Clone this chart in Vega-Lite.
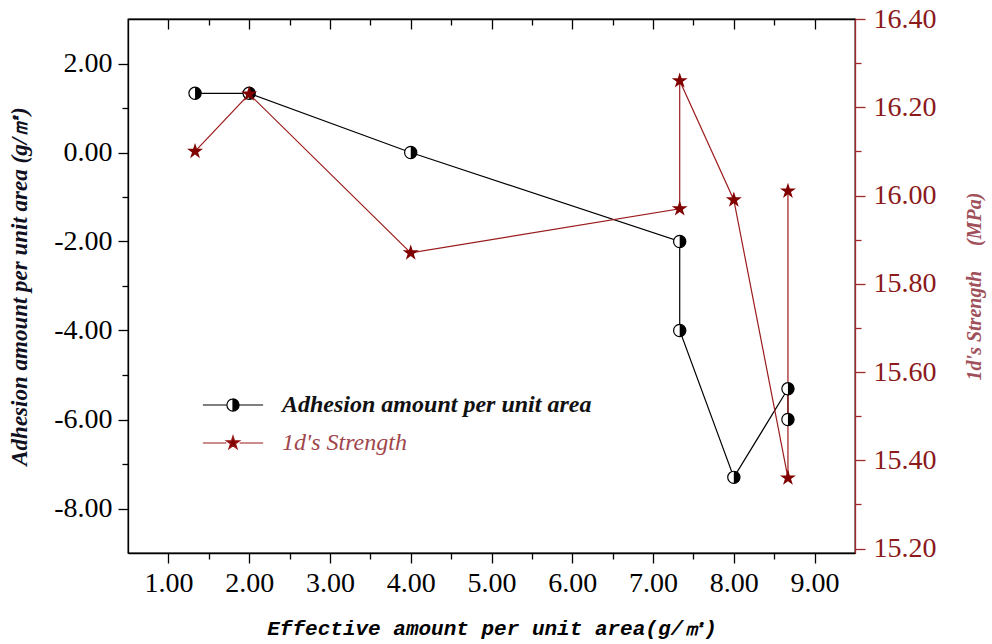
{
  "$schema": "https://vega.github.io/schema/vega-lite/v6.json",
  "width": 727,
  "height": 534,
  "autosize": "none",
  "padding": {"left": 128, "top": 19, "right": 137, "bottom": 91},
  "background": "white",
  "datasets": {
    "adh": [
      {"x": 1.33, "y": 1.33, "o": 1},
      {"x": 2.0, "y": 1.33, "o": 2},
      {"x": 4.0, "y": 0.0, "o": 3},
      {"x": 7.33, "y": -2.0, "o": 4},
      {"x": 7.33, "y": -4.0, "o": 5},
      {"x": 8.0, "y": -7.3, "o": 6},
      {"x": 8.67, "y": -5.31, "o": 7},
      {"x": 8.67, "y": -6.0, "o": 8}
    ],
    "str": [
      {"x": 1.33, "y": 16.1, "o": 1},
      {"x": 2.0, "y": 16.23, "o": 2},
      {"x": 4.0, "y": 15.87, "o": 3},
      {"x": 7.33, "y": 15.97, "o": 4},
      {"x": 7.33, "y": 16.26, "o": 5},
      {"x": 8.0, "y": 15.99, "o": 6},
      {"x": 8.67, "y": 15.36, "o": 7},
      {"x": 8.67, "y": 16.01, "o": 8}
    ],
    "leg": [
      {"s": "Adhesion amount per unit area"},
      {"s": "1d's Strength"}
    ]
  },
  "config": {
    "view": {"stroke": "black", "strokeWidth": 1.3},
    "axis": {
      "grid": false,
      "labelFont": "Liberation Serif",
      "labelFontSize": 28,
      "domainWidth": 1.3,
      "tickWidth": 1.3,
      "labelFlush": false,
      "labelOverlap": false,
      "labelBound": false
    }
  },
  "resolve": {"scale": {"y": "independent"}, "axis": {"x": "independent", "y": "independent"}},
  "layer": [
    {
      "data": {"name": "adh"},
      "mark": {"type": "line", "color": "black", "strokeWidth": 1.2},
      "encoding": {
        "x": {
          "field": "x", "type": "quantitative",
          "scale": {"domain": [0.5, 9.5], "nice": false, "zero": false},
          "axis": {
            "orient": "bottom",
            "values": [1, 1.5, 2, 2.5, 3, 3.5, 4, 4.5, 5, 5.5, 6, 6.5, 7, 7.5, 8, 8.5, 9],
            "labelExpr": "datum.value % 1 === 0 ? format(datum.value, '.2f') : ''",
            "tickSize": {"condition": {"test": "datum.value % 1 === 0", "value": 10}, "value": 6},
            "domainColor": "black", "tickColor": "black", "labelColor": "black",
            "labelPadding": 6,
            "title": "Effective amount per unit area(g/㎡)",
            "titleFont": "Liberation Mono", "titleFontSize": 21,
            "titleFontWeight": "bold", "titleFontStyle": "italic", "titleColor": "black",
            "titlePadding": 20
          }
        },
        "y": {
          "field": "y", "type": "quantitative",
          "scale": {"domain": [-9, 3], "nice": false, "zero": false},
          "axis": {
            "orient": "left",
            "values": [-8, -7, -6, -5, -4, -3, -2, -1, 0, 1, 2],
            "labelExpr": "datum.value % 2 === 0 ? replace(format(datum.value, '.2f'), '−', '-') : ''",
            "tickSize": {"condition": {"test": "datum.value % 2 === 0", "value": 10}, "value": 6},
            "domainColor": "black", "tickColor": "black", "labelColor": "black",
            "labelPadding": 6,
            "title": "Adhesion amount per unit area (g/㎡)",
            "titleFont": "Liberation Serif", "titleFontSize": 23,
            "titleFontStyle": "italic", "titleFontWeight": "bold", "titleColor": "#10101e",
            "titlePadding": 22
          }
        },
        "order": {"field": "o", "type": "quantitative"}
      }
    },
    {
      "data": {"name": "str"},
      "mark": {"type": "line", "color": "#9B1B1B", "strokeWidth": 1.2},
      "encoding": {
        "x": {
          "field": "x", "type": "quantitative",
          "scale": {"domain": [0.5, 9.5], "nice": false, "zero": false},
          "axis": {
            "orient": "top",
            "values": [1, 1.5, 2, 2.5, 3, 3.5, 4, 4.5, 5, 5.5, 6, 6.5, 7, 7.5, 8, 8.5, 9],
            "labels": false,
            "tickSize": {"condition": {"test": "datum.value % 1 === 0", "value": -10}, "value": -6},
            "domainColor": "black", "tickColor": "black",
            "title": null
          }
        },
        "y": {
          "field": "y", "type": "quantitative",
          "scale": {"domain": [15.19, 16.4], "nice": false, "zero": false},
          "axis": {
            "orient": "right",
            "values": [15.2, 15.3, 15.4, 15.5, 15.6, 15.7, 15.8, 15.9, 16.0, 16.1, 16.2, 16.3, 16.4],
            "labelExpr": "round(datum.value * 10) % 2 === 0 ? format(datum.value, '.2f') : ''",
            "tickSize": {"condition": {"test": "round(datum.value * 10) % 2 === 0", "value": 10}, "value": 6},
            "domainColor": "#A0282D", "tickColor": "#A0282D", "labelColor": "#8B1A1A",
            "labelPadding": 8,
            "title": "1d's Strength\u00a0\u00a0\u00a0\u00a0\u00a0(MPa)",
            "titleFont": "Liberation Serif", "titleFontSize": 20,
            "titleFontStyle": "italic", "titleFontWeight": "bold", "titleColor": "#A0505A",
            "titleAngle": 270,
            "titlePadding": 48
          }
        },
        "order": {"field": "o", "type": "quantitative"}
      }
    },
    {
      "data": {"name": "adh"},
      "mark": {"type": "point", "shape": "circle", "filled": true, "fill": "white", "stroke": "black", "strokeWidth": 1.2, "size": 150, "opacity": 1},
      "encoding": {
        "x": {"field": "x", "type": "quantitative", "scale": {"domain": [0.5, 9.5], "nice": false, "zero": false}, "axis": null},
        "y": {"field": "y", "type": "quantitative", "scale": {"domain": [-9, 3], "nice": false, "zero": false}, "axis": null}
      }
    },
    {
      "data": {"name": "adh"},
      "mark": {"type": "point", "shape": "M0,-1A1,1,0,0,1,0,1Z", "filled": true, "fill": "black", "strokeWidth": 0, "size": 150, "opacity": 1},
      "encoding": {
        "x": {"field": "x", "type": "quantitative", "scale": {"domain": [0.5, 9.5], "nice": false, "zero": false}, "axis": null},
        "y": {"field": "y", "type": "quantitative", "scale": {"domain": [-9, 3], "nice": false, "zero": false}, "axis": null}
      }
    },
    {
      "data": {"name": "str"},
      "mark": {"type": "point", "shape": "M0,-1L0.2245,-0.309L0.951,-0.309L0.363,0.118L0.588,0.809L0,0.382L-0.588,0.809L-0.363,0.118L-0.951,-0.309L-0.2245,-0.309Z", "filled": true, "color": "#800000", "size": 280, "opacity": 1},
      "encoding": {
        "x": {"field": "x", "type": "quantitative", "scale": {"domain": [0.5, 9.5], "nice": false, "zero": false}, "axis": null},
        "y": {"field": "y", "type": "quantitative", "scale": {"domain": [15.19, 16.4], "nice": false, "zero": false}, "axis": null}
      }
    },
    {
      "data": {"name": "leg"},
      "mark": {"type": "point", "filled": true, "opacity": 0},
      "encoding": {
        "color": {
          "field": "s", "type": "nominal",
          "scale": {"domain": ["Adhesion amount per unit area", "1d's Strength"], "range": ["black", "#800000"]},
          "legend": {
            "orient": "none", "legendX": 93, "legendY": 374,
            "title": null,
            "symbolSize": 196,
            "labelFont": "Liberation Serif", "labelFontSize": 24, "labelFontStyle": "italic",
            "labelOffset": 37, "rowPadding": 14, "labelLimit": 500,
            "symbolStrokeWidth": 1.2, "symbolOpacity": 1,
            "encode": {
              "symbols": {"update": {
                "stroke": {"signal": "datum.value === 'Adhesion amount per unit area' ? 'black' : '#9B1B1B'"},
                "strokeWidth": {"value": 1.2},
                "opacity": {"value": 1}
              }},
              "labels": {"update": {
                "fill": {"signal": "datum.value === 'Adhesion amount per unit area' ? '#111111' : '#A0464B'"},
                "fontWeight": {"signal": "datum.value === 'Adhesion amount per unit area' ? 'bold' : 'normal'"}
              }}
            }
          }
        },
        "shape": {
          "field": "s", "type": "nominal",
          "scale": {"domain": ["Adhesion amount per unit area", "1d's Strength"], "range": [
            "M-4.3,0L-0.87,0M0.87,0L4.3,0M0,-0.87A0.87,0.87,0,0,1,0,0.87ZM0,-0.87A0.87,0.87,0,0,0,0,0.87A0.87,0.87,0,0,1,0,-0.87",
            "M-4.3,0L-0.95,0M0.95,0L4.3,0M0,-1L0.2245,-0.309L0.951,-0.309L0.363,0.118L0.588,0.809L0,0.382L-0.588,0.809L-0.363,0.118L-0.951,-0.309L-0.2245,-0.309Z"
          ]},
          "legend": {
            "orient": "none", "legendX": 93, "legendY": 374,
            "title": null,
            "symbolSize": 196,
            "labelFont": "Liberation Serif", "labelFontSize": 24, "labelFontStyle": "italic",
            "labelOffset": 37, "rowPadding": 14, "labelLimit": 500,
            "symbolStrokeWidth": 1.2, "symbolOpacity": 1
          }
        }
      }
    }
  ]
}
